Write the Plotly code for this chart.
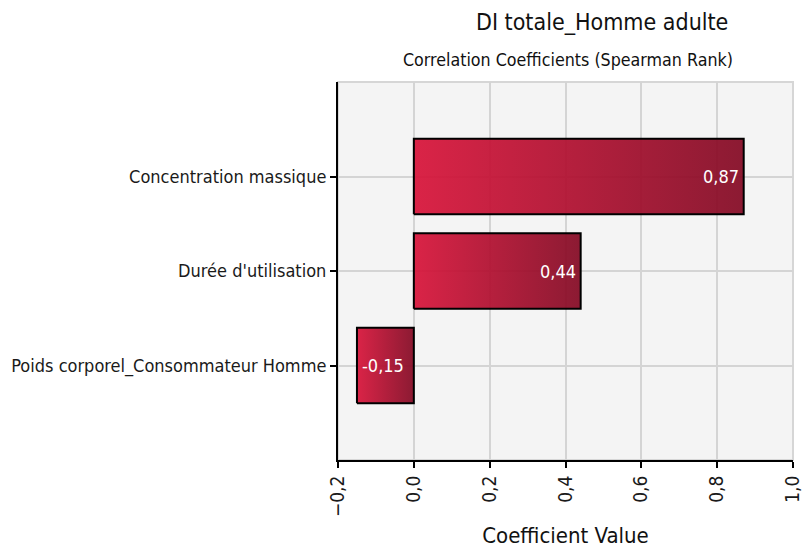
import plotly.graph_objects as go

# Spearman rank correlations of each input with the output
categories = ["Poids corporel_Consommateur Homme", "Durée d'utilisation", "Concentration massique"]
values = [-0.15, 0.44, 0.87]
labels = ["-0,15", "0,44", "0,87"]
x_ticks = [-0.2, 0.0, 0.2, 0.4, 0.6, 0.8, 1.0]

FONT = "DejaVu Sans Condensed, DejaVu Sans, sans-serif"
BAR_HALF = 0.4

fig = go.Figure()

for i, (cat, v) in enumerate(zip(categories, values)):
    lo, hi = min(0, v), max(0, v)
    fig.add_trace(go.Scatter(
        x=[lo, hi, hi, lo, lo],
        y=[i - BAR_HALF, i - BAR_HALF, i + BAR_HALF, i + BAR_HALF, i - BAR_HALF],
        mode="lines",
        fill="toself",
        fillgradient=dict(
            type="horizontal",
            colorscale=[[0, "rgba(216,20,58,0.93)"], [1, "rgba(132,10,36,0.93)"]],
        ),
        line=dict(color="black", width=2),
        hoverinfo="text",
        text=f"{cat}: {labels[i]}",
        showlegend=False,
    ))
    fig.add_annotation(
        x=v, y=i, text=labels[i], showarrow=False,
        xanchor="right" if v > 0 else "left",
        xshift=-3 if v > 0 else 3,
        font=dict(family=FONT, size=18, color="white"),
    )

# dotted zero reference line
fig.add_shape(type="line", x0=0, x1=0, y0=0, y1=1, yref="paper",
              line=dict(color="#c8102e", width=1, dash="dot"), layer="below")
# light frame around the plotting area
fig.add_shape(type="rect", x0=0, x1=1, y0=0, y1=1, xref="paper", yref="paper",
              line=dict(color="#d6d6d6", width=2), layer="below")

# title and subtitle
fig.add_annotation(text="DI totale_Homme adulte", x=0.580, y=1.159,
                   xref="paper", yref="paper", xanchor="center", yanchor="middle",
                   showarrow=False, font=dict(family=FONT, size=23, color="#111"))
fig.add_annotation(text="Correlation Coefficients (Spearman Rank)", x=0.505, y=1.058,
                   xref="paper", yref="paper", xanchor="center", yanchor="middle",
                   showarrow=False, font=dict(family=FONT, size=17.7, color="#111"))

fig.update_layout(
    width=805, height=550,
    margin=dict(l=338, r=12, t=82, b=90),
    paper_bgcolor="white",
    plot_bgcolor="#f4f4f4",
    separators=", ",
    font=dict(family=FONT, size=17, color="#1a1a1a"),
    xaxis=dict(
        range=[-0.2, 1.0],
        tickvals=x_ticks,
        tickformat=".1f",
        tickangle=-90,
        ticks="outside", ticklen=6, tickwidth=1.5, tickcolor="black",
        showline=True, linecolor="black", linewidth=2,
        showgrid=True, gridcolor="#d4d4d4", gridwidth=2,
        zeroline=False,
        automargin=False,
        tickfont=dict(family=FONT, size=19, color="#1a1a1a"),
        title=dict(text="Coefficient Value", font=dict(family=FONT, size=22, color="#111"),
                   standoff=12),
    ),
    yaxis=dict(
        range=[-1.0, 3.0],
        tickvals=list(range(len(categories))),
        ticktext=categories,
        ticks="outside", ticklen=6, tickwidth=1.5, tickcolor="black",
        showline=True, linecolor="black", linewidth=2,
        showgrid=True, gridcolor="#d4d4d4", gridwidth=2,
        zeroline=False,
        automargin=False,
        tickfont=dict(family=FONT, size=18, color="#1a1a1a"),
    ),
)

fig.write_html("out.html")
